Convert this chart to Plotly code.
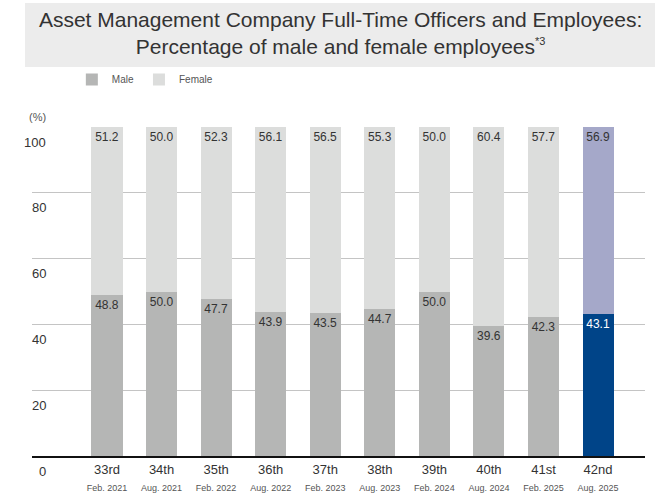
import plotly.graph_objects as go

periods = ["33rd", "34th", "35th", "36th", "37th", "38th", "39th", "40th", "41st", "42nd"]
dates = ["Feb. 2021", "Aug. 2021", "Feb. 2022", "Aug. 2022", "Feb. 2023",
         "Aug. 2023", "Feb. 2024", "Aug. 2024", "Feb. 2025", "Aug. 2025"]
male = [48.8, 50.0, 47.7, 43.9, 43.5, 44.7, 50.0, 39.6, 42.3, 43.1]
female = [51.2, 50.0, 52.3, 56.1, 56.5, 55.3, 50.0, 60.4, 57.7, 56.9]
y_ticks = [0, 20, 40, 60, 80, 100]

MALE_C, FEMALE_C = "#b5b6b5", "#dcdddc"
MALE_HL, FEMALE_HL = "#004488", "#a5a8c9"
n = len(periods)
male_colors = [MALE_C] * (n - 1) + [MALE_HL]
female_colors = [FEMALE_C] * (n - 1) + [FEMALE_HL]
male_text_colors = ["#333333"] * (n - 1) + ["#ffffff"]

FONT = "Liberation Sans, Arial, sans-serif"
ticktext = [f"{p}<br><span style='font-size:9px;color:#555555'>{d}</span>" for p, d in zip(periods, dates)]

fig = go.Figure()
fig.add_trace(go.Bar(
    name="Male", x=periods, y=male, width=0.57,
    marker=dict(color=male_colors, line=dict(width=0)),
    texttemplate="%{y:.1f}", textposition="inside", insidetextanchor="end",
    textangle=0, constraintext="none",
    textfont=dict(size=12, color=male_text_colors, family=FONT),
))
fig.add_trace(go.Bar(
    name="Female", x=periods, y=female, width=0.57,
    marker=dict(color=female_colors, line=dict(width=0)),
    texttemplate="%{y:.1f}", textposition="inside", insidetextanchor="end",
    textangle=0, constraintext="none",
    textfont=dict(size=12, color="#333333", family=FONT),
))

plot_w = 655 - 32 - 10
plot_h = 456 - 127

annotations = [dict(
    text="(%)", xref="paper", yref="paper",
    x=(27 - 32) / plot_w, y=(456 - 117) / plot_h,
    xanchor="left", yanchor="middle", showarrow=False,
    font=dict(size=11, color="#555555"),
)]
for v in y_ticks:
    annotations.append(dict(
        text=str(v), xref="paper", yref="y",
        x=(48 - 32) / plot_w, y=v, yshift=-15,
        xanchor="right", yanchor="middle", showarrow=False,
        font=dict(size=13, color="#333333"),
    ))

fig.update_layout(
    width=655, height=497,
    margin=dict(l=32, r=10, t=127, b=41),
    barmode="stack",
    paper_bgcolor="white", plot_bgcolor="white",
    font=dict(family=FONT, color="#333333"),
    title=dict(
        text="Asset Management Company Full-Time Officers and Employees:<br>Percentage of male and female employees<sup><span style='font-size:11px'>*3</span></sup>",
        font=dict(size=21, color="#333333", family=FONT),
        x=0.52, xanchor="center", xref="container",
        y=1 - 27 / 497, yanchor="middle", yref="container",
    ),
    legend=dict(
        orientation="h", x=0.065, xanchor="left", y=(456 - 65) / plot_h, yanchor="top",
        font=dict(size=10, color="#555555"), bgcolor="rgba(0,0,0,0)",
        traceorder="normal",
    ),
    xaxis=dict(
        type="category", range=[-1.374, 9.86], automargin=False,
        tickmode="array", tickvals=periods, ticktext=ticktext,
        tickfont=dict(size=13, color="#333333"),
        showgrid=False, showline=True, linecolor="#111111", linewidth=2,
        ticks="", ticklabelstandoff=0,
    ),
    yaxis=dict(
        range=[0, 100], tickvals=y_ticks, automargin=False,
        showgrid=True, gridcolor="#c4c4c4", gridwidth=1,
        zeroline=False, showline=False, showticklabels=False,
    ),
    shapes=[dict(
        type="rect", xref="paper", yref="paper",
        x0=(25 - 32) / plot_w, x1=(655 - 32) / plot_w,
        y0=(456 - 67) / plot_h, y1=(456 - 3) / plot_h,
        fillcolor="#ececec", line=dict(width=0), layer="below",
    )],
    annotations=annotations,
)

fig.write_html("out.html")
